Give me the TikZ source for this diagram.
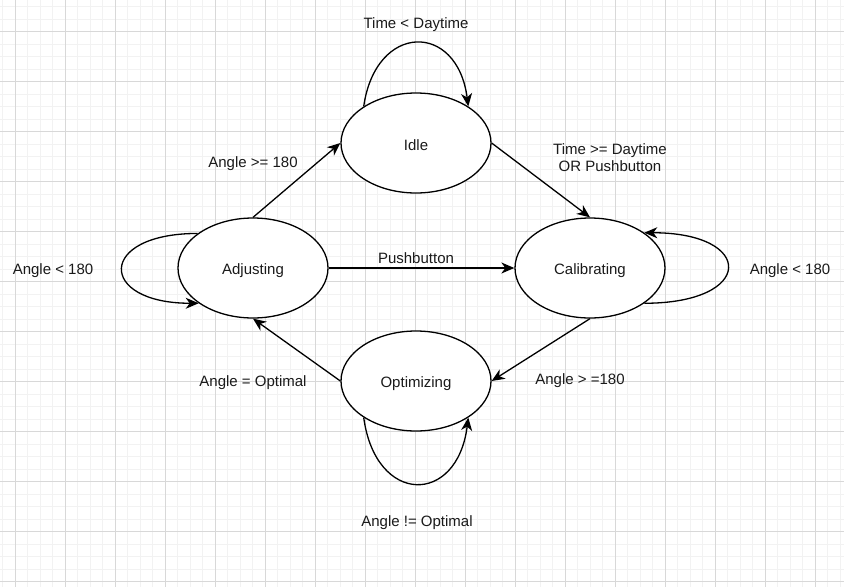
\documentclass[tikz,border=0pt]{standalone}
\usepackage{fontspec}
\setmainfont{Liberation Sans}
\usetikzlibrary{shapes.geometric,arrows.meta}
\definecolor{minorgrid}{HTML}{F2F2F2}
\definecolor{majorgrid}{HTML}{D8D8D8}
\definecolor{txt}{HTML}{1A1A1A}
\newcommand{\dn}[1]{\raisebox{-2.5pt}[\height][\depth]{#1}}
\begin{document}
\begin{tikzpicture}[x=1pt,y=-1pt,
  state/.style={ellipse,draw,line width=1.3pt,fill=white,minimum width=150pt,minimum height=100pt,inner sep=0pt,font=\fontsize{15}{17}\selectfont,text=txt},
  lbl/.style={font=\fontsize{15}{17}\selectfont,text=txt,align=center,inner sep=0pt},
  tr/.style={draw,line width=1.3pt,-{Stealth[length=13pt,width=11pt,inset=4pt]}},
  minorline/.style={draw=minorgrid,line width=1pt},
  majorline/.style={draw=majorgrid,line width=1pt}
]
\useasboundingbox (0,0) rectangle (844,587);
\fill[white] (0,0) rectangle (844,587);
% grid
\foreach \i in {0,...,67} \path[minorline] ({2.5+12.5*\i},0) -- ({2.5+12.5*\i},587);
\foreach \j in {0,...,46} \path[minorline] (0,{6.5+12.5*\j}) -- (844,{6.5+12.5*\j});
\foreach \i in {0,...,16} \path[majorline] ({15+50*\i},0) -- ({15+50*\i},587);
\foreach \j in {0,...,11} \path[majorline] (0,{31.5+50*\j}) -- (844,{31.5+50*\j});

% states
\node[state] (idle) at (416,143) {\dn{Idle}};
\node[state] (adj) at (253,268) {\dn{Adjusting}};
\node[state] (cal) at (590,268) {\dn{Calibrating}};
\node[state] (opt) at (416,381) {\dn{Optimizing}};

% transitions
\path[tr] (adj.north) -- (idle.west);
\path[tr] (idle.east) -- (cal.north);
\path[tr] (adj.east) -- (cal.west);
\path[tr] (cal.south) -- (opt.east);
\path[tr] (opt.west) -- (adj.south);

% self loops
\path[tr] (idle.145) .. controls +(12,-84) and +(-11,-85) .. (idle.35);
\path[tr] (opt.215) .. controls +(12,88) and +(-11,88) .. (opt.325);
\path[tr] (cal.327) .. controls +(111,0) and +(111,0) .. (cal.33);
\path[tr] (adj.148) .. controls +(-101,0) and +(-101,0) .. (adj.213);

% labels
\node[lbl] (l1) at (253,164) {Angle >= 180};
\node[lbl] (l2) at (610,158) {Time >= Daytime\\OR Pushbutton};
\node[lbl] (l3) at (416,258) {Pushbutton};
\node[lbl] (l4) at (580,381) {Angle > =180};
\node[lbl] (l5) at (253,383) {Angle = Optimal};
\node[lbl] (l6) at (416,25) {Time < Daytime};
\node[lbl] (l7) at (417,523) {Angle != Optimal};
\node[lbl] (l8) at (53,271) {Angle < 180};
\node[lbl] (l9) at (790,271) {Angle < 180};
\end{tikzpicture}
\end{document}
